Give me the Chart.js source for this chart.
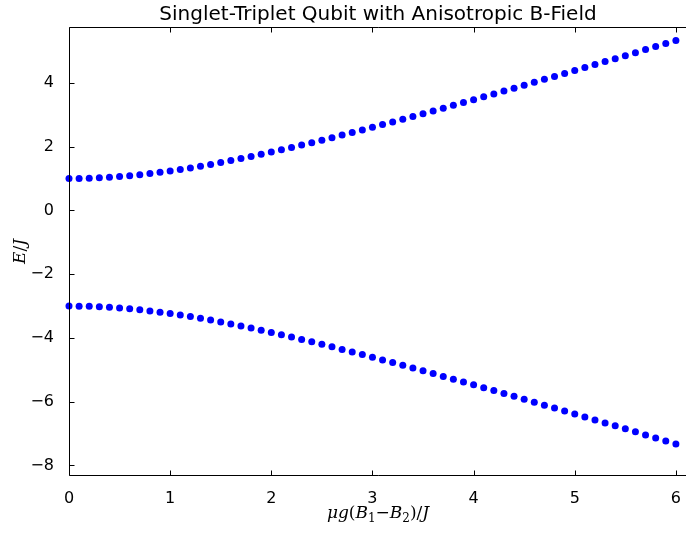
<!DOCTYPE html>
<html>
<head>
<meta charset="utf-8">
<script src="https://cdn.jsdelivr.net/npm/chart.js@4.4.1/dist/chart.umd.min.js"></script>
<style>
  html, body { margin: 0; padding: 0; background: #fff; }
  canvas { display: block; }
</style>
</head>
<body>
<canvas id="chart" width="686" height="534"></canvas>
<script>
// field values mu*g*(B1-B2)/J, one point every 0.1
const fieldX = [
  0.0, 0.1, 0.2, 0.3, 0.4, 0.5, 0.6, 0.7, 0.8, 0.9,
  1.0, 1.1, 1.2, 1.3, 1.4, 1.5, 1.6, 1.7, 1.8, 1.9,
  2.0, 2.1, 2.2, 2.3, 2.4, 2.5, 2.6, 2.7, 2.8, 2.9,
  3.0, 3.1, 3.2, 3.3, 3.4, 3.5, 3.6, 3.7, 3.8, 3.9,
  4.0, 4.1, 4.2, 4.3, 4.4, 4.5, 4.6, 4.7, 4.8, 4.9,
  5.0, 5.1, 5.2, 5.3, 5.4, 5.5, 5.6, 5.7, 5.8, 5.9,
  6.0, 6.1
];
// upper energy branch E/J
const upperE = [
  1.000, 1.003, 1.010, 1.022, 1.040, 1.062, 1.088, 1.119, 1.154, 1.193,
  1.236, 1.283, 1.332, 1.385, 1.441, 1.500, 1.561, 1.625, 1.691, 1.759,
  1.828, 1.900, 1.973, 2.048, 2.124, 2.202, 2.280, 2.360, 2.441, 2.523,
  2.606, 2.689, 2.774, 2.859, 2.945, 3.031, 3.118, 3.206, 3.294, 3.383,
  3.472, 3.562, 3.652, 3.742, 3.833, 3.924, 4.016, 4.108, 4.200, 4.292,
  4.385, 4.478, 4.571, 4.665, 4.758, 4.852, 4.946, 5.041, 5.135, 5.230,
  5.325, 5.420
];
// lower energy branch E/J
const lowerE = [
  -3.000, -3.003, -3.010, -3.022, -3.040, -3.062, -3.088, -3.119, -3.154, -3.193,
  -3.236, -3.283, -3.332, -3.385, -3.441, -3.500, -3.561, -3.625, -3.691, -3.759,
  -3.828, -3.900, -3.973, -4.048, -4.124, -4.202, -4.280, -4.360, -4.441, -4.523,
  -4.606, -4.689, -4.774, -4.859, -4.945, -5.031, -5.118, -5.206, -5.294, -5.383,
  -5.472, -5.562, -5.652, -5.742, -5.833, -5.924, -6.016, -6.108, -6.200, -6.292,
  -6.385, -6.478, -6.571, -6.665, -6.758, -6.852, -6.946, -7.041, -7.135, -7.230,
  -7.325, -7.420
];
const xTicks = [0, 1, 2, 3, 4, 5, 6];
const yTicks = [-8, -6, -4, -2, 0, 2, 4];
const titleText = "Singlet-Triplet Qubit with Anisotropic B-Field";

const toPoints = (ys) => fieldX.map((x, i) => ({ x: x, y: ys[i] }));

const fmt = (v) => (v < 0 ? "\u2212" + Math.abs(v) : String(v));

// matplotlib-like frame (right side falls off the canvas), inward ticks, title, math labels
const frame = {
  id: "frame",
  afterDraw(chart) {
    const { ctx, chartArea: a, scales } = chart;
    const L = a.left + 0.5, R = chart.width + 2, T = a.top + 0.5, B = a.bottom - 0.5;
    ctx.save();
    ctx.strokeStyle = "#000";
    ctx.lineWidth = 1;
    ctx.beginPath();
    ctx.moveTo(R, T); ctx.lineTo(L, T); ctx.lineTo(L, B); ctx.lineTo(R, B);
    xTicks.forEach(v => {
      const px = Math.round(scales.x.getPixelForValue(v)) + 0.5;
      ctx.moveTo(px, B); ctx.lineTo(px, B - 5);
      ctx.moveTo(px, T); ctx.lineTo(px, T + 5);
    });
    yTicks.forEach(v => {
      const py = Math.round(scales.y.getPixelForValue(v)) + 0.5;
      ctx.moveTo(L, py); ctx.lineTo(L + 5, py);
    });
    ctx.stroke();

    const cx = 378;
    ctx.fillStyle = "#000";
    ctx.font = "20px 'DejaVu Sans'";
    ctx.textAlign = "center";
    ctx.textBaseline = "alphabetic";
    ctx.fillText(titleText, cx, 20);

    // x label: mu g (B_1 - B_2) / J
    const it = "italic 17px 'DejaVu Serif'";
    const up = "17px 'DejaVu Serif'";
    const sub = "12px 'DejaVu Serif'";
    const parts = [
      [it, "\u03bcg", 0], [up, "(", 0], [it, "B", 0], [sub, "1", 4],
      [up, "\u2212", 0], [it, "B", 0], [sub, "2", 4], [up, ")/", 0], [it, "J", 0]
    ];
    let w = 0;
    parts.forEach(p => { ctx.font = p[0]; w += ctx.measureText(p[1]).width; });
    let x = cx - w / 2;
    ctx.textAlign = "left";
    parts.forEach(p => {
      ctx.font = p[0];
      ctx.fillText(p[1], x, 518 + p[2]);
      x += ctx.measureText(p[1]).width;
    });

    // y label: E/J
    ctx.translate(25, (a.top + a.bottom) / 2);
    ctx.rotate(-Math.PI / 2);
    const yparts = [[it, "E"], [up, "/"], [it, "J"]];
    let yw = 0;
    yparts.forEach(p => { ctx.font = p[0]; yw += ctx.measureText(p[1]).width; });
    let yx = -yw / 2;
    yparts.forEach(p => {
      ctx.font = p[0];
      ctx.fillText(p[1], yx, 0);
      yx += ctx.measureText(p[1]).width;
    });
    ctx.restore();
  }
};

const dotStyle = {
  showLine: false,
  clip: false,
  pointRadius: 3.5,
  pointHoverRadius: 3.5,
  pointBorderWidth: 0,
  pointBackgroundColor: "#0000ff",
  borderColor: "#0000ff"
};

new Chart(document.getElementById("chart").getContext("2d"), {
  type: "scatter",
  data: {
    datasets: [
      Object.assign({ label: "upper", data: toPoints(upperE) }, dotStyle),
      Object.assign({ label: "lower", data: toPoints(lowerE) }, dotStyle)
    ]
  },
  options: {
    responsive: false,
    animation: false,
    layout: { padding: { top: 27, left: 0, right: 0, bottom: 0 } },
    plugins: {
      legend: { display: false },
      title: { display: false },
      tooltip: { enabled: false }
    },
    scales: {
      x: {
        type: "linear",
        min: 0,
        max: 6.03,
        grid: { display: false },
        border: { display: false },
        afterBuildTicks: s => { s.ticks = xTicks.map(v => ({ value: v })); },
        afterFit: s => { s.height = 58; },
        ticks: {
          color: "#000",
          padding: 5,
          maxRotation: 0,
          font: { family: "'DejaVu Sans'", size: 16 },
          callback: v => fmt(v)
        }
      },
      y: {
        type: "linear",
        min: -8.33,
        max: 5.75,
        grid: { display: false },
        border: { display: false },
        afterBuildTicks: s => { s.ticks = yTicks.map(v => ({ value: v })); },
        afterFit: s => { s.width = 69; },
        ticks: {
          color: "#000",
          padding: 7,
          font: { family: "'DejaVu Sans'", size: 16 },
          callback: v => fmt(v)
        }
      }
    }
  },
  plugins: [frame]
});
</script>
</body>
</html>
